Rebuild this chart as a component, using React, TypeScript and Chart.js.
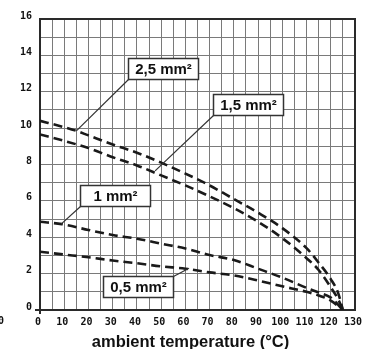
import React, { useEffect, useRef } from 'react';
import { Chart, registerables } from 'chart.js';

Chart.register(...registerables);

// ---- data (ampacity in A vs ambient temperature in °C) ----
const temp25 = [0, 10, 15, 20, 30, 40, 50, 60, 70, 80, 90, 100, 110, 115, 120, 123, 125];
const amp25 = [10.4, 10.05, 9.85, 9.6, 9.1, 8.65, 8.1, 7.5, 6.85, 6.1, 5.35, 4.5, 3.4, 2.6, 1.7, 0.95, 0];

const temp15 = [0, 10, 20, 30, 40, 50, 60, 70, 80, 90, 100, 110, 115, 120, 123, 125];
const amp15 = [9.65, 9.3, 8.9, 8.4, 7.95, 7.4, 6.85, 6.25, 5.6, 4.85, 3.95, 2.85, 2.2, 1.25, 0.6, 0];

const temp10 = [0, 9, 20, 30, 40, 50, 60, 70, 80, 90, 100, 110, 115, 120, 125];
const amp10 = [4.85, 4.72, 4.4, 4.12, 3.92, 3.65, 3.38, 3.02, 2.75, 2.27, 1.78, 1.22, 0.96, 0.68, 0];

const temp05 = [0, 10, 20, 30, 40, 50, 60, 70, 80, 90, 100, 110, 115, 120, 125];
const amp05 = [3.2, 3.05, 2.9, 2.72, 2.57, 2.4, 2.27, 2.07, 1.9, 1.62, 1.3, 1.0, 0.8, 0.52, 0];

const seriesNames = ['2,5 mm²', '1,5 mm²', '1 mm²', '0,5 mm²'];
const xAxisTitle = 'ambient temperature (°C)';
const xTickLabels = [0, 10, 20, 30, 40, 50, 60, 70, 80, 90, 100, 110, 120, 130];
const yTickLabels = [0, 2, 4, 6, 8, 10, 12, 14, 16];

// callout boxes: top-left corner in data units, leader target in data units
const calloutBoxX = [36.3, 71.4, 16.5, 26];
const calloutBoxY = [13.85, 11.87, 6.87, 1.87];
const leaderX = [15, 47.5, 8.7, 61.5];
const leaderY = [9.85, 7.65, 4.72, 2.3];
const leaderCorner = ['bl', 'bl', 'bl', 'tr'];

const pairs = (xs: number[], ys: number[]) => xs.map((x, i) => ({ x, y: ys[i] }));

const calloutPlugin = {
  id: 'callouts',
  beforeDatasetsDraw(chart: any) {
    const { ctx, chartArea } = chart;
    const { left, top, right, bottom } = chartArea;
    ctx.save();
    ctx.strokeStyle = '#2a2a2a';
    ctx.lineWidth = 2;
    ctx.strokeRect(left, top, right - left, bottom - top);
    // small ticks at the origin
    ctx.beginPath();
    ctx.moveTo(left - 5, bottom);
    ctx.lineTo(left, bottom);
    ctx.moveTo(left, bottom);
    ctx.lineTo(left, bottom + 4);
    ctx.stroke();
    // clipped stray label at far left
    ctx.fillStyle = '#111';
    ctx.font = 'bold 10px "DejaVu Sans Mono"';
    ctx.textAlign = 'right';
    ctx.textBaseline = 'middle';
    ctx.fillText('0', 4, 321);
    // axis title
    ctx.font = 'bold 16.5px "Liberation Sans", Arial, sans-serif';
    ctx.textAlign = 'center';
    ctx.fillText(xAxisTitle, (left + right) / 2 - 7, 342);
    ctx.restore();
  },
  afterDatasetsDraw(chart: any) {
    const { ctx, scales } = chart;
    const xs = scales.x;
    const ys = scales.y;
    const bw = 70;
    const bh = 21;
    ctx.save();
    seriesNames.forEach((name, i) => {
      const bx = Math.round(xs.getPixelForValue(calloutBoxX[i])) + 0.5;
      const by = Math.round(ys.getPixelForValue(calloutBoxY[i])) + 0.5;
      const tx = xs.getPixelForValue(leaderX[i]);
      const ty = ys.getPixelForValue(leaderY[i]);
      const cx = leaderCorner[i] === 'tr' ? bx + bw : bx;
      const cy = leaderCorner[i] === 'tr' ? by : by + bh;
      ctx.strokeStyle = '#333';
      ctx.lineWidth = 1.2;
      ctx.beginPath();
      ctx.moveTo(cx, cy);
      ctx.lineTo(tx, ty);
      ctx.stroke();
      ctx.fillStyle = '#fff';
      ctx.fillRect(bx, by, bw, bh);
      ctx.lineWidth = 1.5;
      ctx.strokeStyle = '#333';
      ctx.strokeRect(bx, by, bw, bh);
      ctx.fillStyle = '#111';
      ctx.font = 'bold 15px "Liberation Sans", Arial, sans-serif';
      ctx.textAlign = 'center';
      ctx.textBaseline = 'middle';
      ctx.fillText(name, bx + bw / 2, by + bh / 2 + 1);
    });
    ctx.restore();
  },
};

export default function App() {
  const canvasRef = useRef<HTMLCanvasElement | null>(null);

  useEffect(() => {
    if (!canvasRef.current) return;
    const tickFont = { family: '"DejaVu Sans Mono", monospace', weight: 'bold' as const, size: 10 };
    const dataset = (label: string, xs: number[], ys: number[]) => ({
      label,
      data: pairs(xs, ys),
      borderColor: '#1a1a1a',
      borderWidth: 2.6,
      borderDash: [9, 5],
      pointRadius: 0,
      fill: false,
      cubicInterpolationMode: 'monotone' as const,
    });
    const chart = new Chart(canvasRef.current, {
      type: 'line',
      data: {
        datasets: [
          dataset(seriesNames[0], temp25, amp25),
          dataset(seriesNames[1], temp15, amp15),
          dataset(seriesNames[2], temp10, amp10),
          dataset(seriesNames[3], temp05, amp05),
        ],
      },
      options: {
        animation: false,
        responsive: true,
        maintainAspectRatio: false,
        devicePixelRatio: 1,
        layout: { padding: { top: 19, right: 16, left: 0, bottom: 0 } },
        plugins: { legend: { display: false }, tooltip: { enabled: false } },
        scales: {
          x: {
            type: 'linear',
            min: 0,
            max: 130,
            afterFit: (s: any) => { s.height = 39; },
            grid: { color: '#7a7a7a', lineWidth: 1, drawTicks: false },
            border: { display: false },
            ticks: {
              stepSize: 5,
              autoSkip: false,
              maxRotation: 0,
              padding: 6,
              labelOffset: -2,
              color: '#111',
              font: tickFont,
              callback: (v: any) => (xTickLabels.includes(Number(v)) ? String(v) : ''),
            },
            title: { display: false },
          },
          y: {
            type: 'linear',
            min: 0,
            max: 16,
            afterFit: (s: any) => { s.width = 40; },
            grid: { color: '#7a7a7a', lineWidth: 1, drawTicks: false },
            border: { display: false },
            ticks: {
              stepSize: 1,
              autoSkip: false,
              padding: 8,
              labelOffset: -3,
              color: '#111',
              font: tickFont,
              callback: (v: any) => (yTickLabels.includes(Number(v)) ? String(v) : ''),
            },
          },
        },
      },
      plugins: [calloutPlugin],
    } as any);
    return () => chart.destroy();
  }, []);

  return (
    <div style={{ position: 'fixed', left: 0, top: 0, width: 371, height: 349, background: '#fff' }}>
      <canvas ref={canvasRef} />
    </div>
  );
}
